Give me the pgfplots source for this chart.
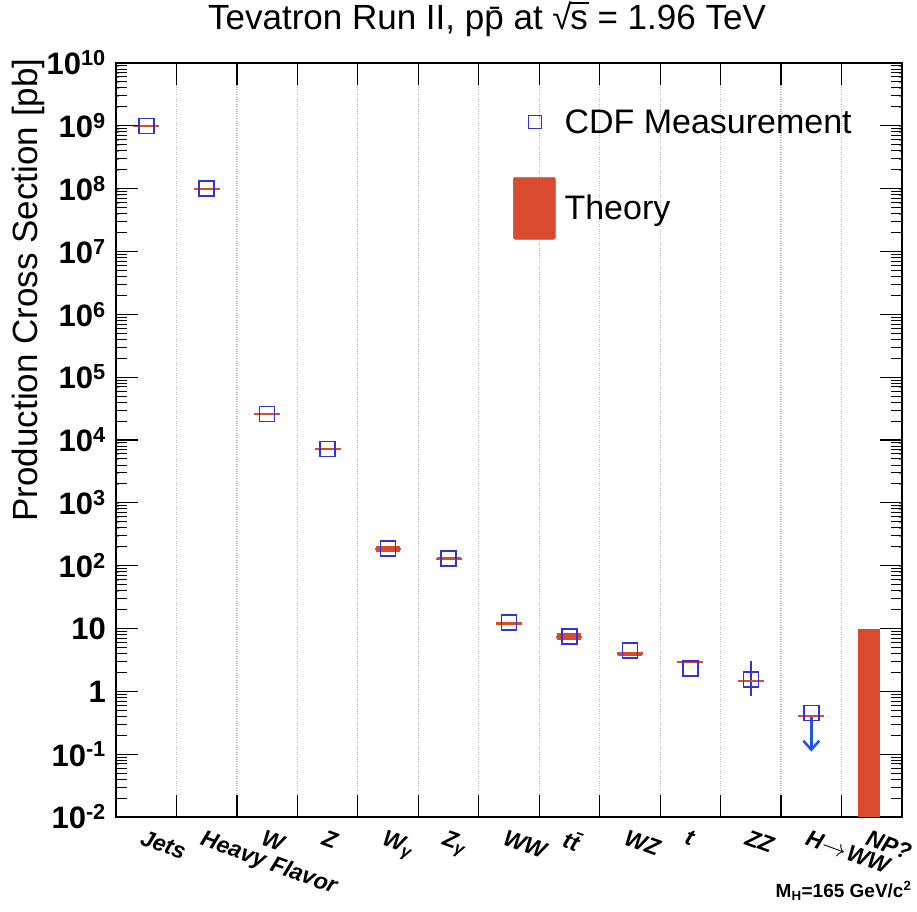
\documentclass[border=0pt]{standalone}
\usepackage{fontspec}
\setmainfont{Liberation Sans}
\usepackage{pgfplots}
\pgfplotsset{compat=1.18}
\usetikzlibrary{arrows.meta}
\definecolor{cdfblue}{RGB}{50,50,215}
\definecolor{thred}{RGB}{217,74,46}
\definecolor{arrowblue}{RGB}{25,85,235}
\begin{document}
\begin{tikzpicture}
\begin{axis}[
  name=ax,
  scale only axis, width=786pt, height=754pt,
  xmin=-0.5, xmax=12.5,
  ymode=log, ymin=1e-2, ymax=1e10,
  axis line style={line width=2.5pt},
  major tick length=22pt,
  major tick style={line width=1.3pt, black},
  xtick={0.5,1.5,2.5,3.5,4.5,5.5,6.5,7.5,8.5,9.5,10.5,11.5,12.5},
  xticklabels={Jets, Heavy Flavor, W, Z, W\raisebox{-0.35ex}{\fontsize{17}{17}\selectfont γ}, Z\raisebox{-0.35ex}{\fontsize{17}{17}\selectfont γ}, WW, t\={t}, WZ, t, ZZ, H\kern1pt$\rightarrow$\kern1pt WW, NP?},
  xmajorgrids, major x grid style={gray!55, dotted, line width=1.2pt},
  xticklabel style={xshift=-32pt, yshift=-12pt, rotate=-20, anchor=north west, font=\bfseries\itshape\fontsize{23}{23}\selectfont, inner sep=0pt},
  ytick={1e-2,1e-1,1,1e1,1e2,1e3,1e4,1e5,1e6,1e7,1e8,1e9,1e10},
  yticklabels={10\textsuperscript{-2},10\textsuperscript{-1},1,10,10\textsuperscript{2},10\textsuperscript{3},10\textsuperscript{4},10\textsuperscript{5},10\textsuperscript{6},10\textsuperscript{7},10\textsuperscript{8},10\textsuperscript{9},10\textsuperscript{10}},
  yticklabel style={font=\bfseries\fontsize{31}{31}\selectfont, inner sep=0pt, xshift=-10pt},
  ylabel={Production Cross Section [pb]},
  ylabel style={at={(rel axis cs:-0.112,1.0106)}, anchor=east, font=\fontsize{35}{35}\selectfont},
  every axis title shift=0pt,
  title={Tevatron Run II, p\={p} at √\kern-0.04em\rlap{\rule[0.74em]{0.52em}{0.06em}}s = 1.96 TeV},
  title style={at={(rel axis cs:0.472,1.0438)}, anchor=base, font=\fontsize{35}{35}\selectfont},
  legend style={at={(rel axis cs:0.505,0.963)}, anchor=north west, draw=none, fill=none,
    inner sep=0pt, column sep=9pt, row sep=24pt, nodes={inner sep=0pt},
    font=\fontsize{34}{34}\selectfont},
  legend cell align=left,
]
% theory: thin lines
\addplot[forget plot, only marks, mark=-, mark size=13pt, mark options={line width=2.2pt, thred}]
  coordinates {
  (0,1.0e9) (1,1.0e8) (2,2.6e4) (3,7.2e3) (4,186) (5,129) (6,12.0)
  (7,7.4) (8,4.0) (9,2.9) (10,1.45) (11,0.41)
  };
% theory: uncertainty bands
\addplot[forget plot, draw=none, mark=none,
  error bars/.cd, y dir=both, y explicit, error mark=none,
  error bar style={line width=24pt, thred}]
  coordinates {
  (4,186) += (0,22) -= (0,20)
  (5,129) += (0,6) -= (0,6)
  (6,12.0) += (0,0.5) -= (0,0.5)
  (7,7.4) += (0,1.2) -= (0,0.9)
  (8,4.0) += (0,0.3) -= (0,0.3)
  };
% NP? band
\addplot[forget plot, fill=thred, draw=none] coordinates {(11.77,0.01) (11.77,10) (12.13,10) (12.13,0.01)};
% CDF measurements
\addplot[forget plot, only marks, mark=square, mark size=7.5pt, mark options={line width=1.6pt, cdfblue, fill=none}]
  coordinates {
  (0,1.0e9) (1,1.0e8) (2,2.6e4) (3,7.2e3) (4,186) (5,129) (6,12.4)
  (7,7.5) (8,4.5) (9,2.3) (10,1.55) (11,0.45)
  };
% ZZ measurement uncertainty
\addplot[forget plot, draw=none, mark=none,
  error bars/.cd, y dir=both, y explicit, error mark=-,
  error bar style={line width=1.6pt, cdfblue},
  error mark options={rotate=0, mark size=4pt, line width=1.6pt, cdfblue}]
  coordinates {(10,1.55) += (0,1.04) -= (0,0.59)};
% H->WW upper limit arrow
\addplot[forget plot, arrowblue, line width=2.5pt, -{Straight Barb[length=9pt, width=16pt, line width=2.5pt]}] coordinates {(11,0.40) (11,0.11)};
\addlegendimage{legend image code/.code={\path[draw=none, fill=none] (0pt,-31pt) rectangle (42pt,31pt); \draw[cdfblue, line width=1.5pt] (15pt,-6.5pt) rectangle (28pt,6.5pt);}}
\addlegendentry{CDF Measurement}
\addlegendimage{legend image code/.code={\fill[thred, rounded corners=2pt] (0pt,-31pt) rectangle (42pt,31pt);}}
\addlegendentry{Theory}
\end{axis}
% y-axis tick marks (axis decoration): one decade = 754pt/12 = 62.8333pt
\foreach \d in {1,...,11} {
  \draw[black, line width=1.3pt] ([yshift=\d*62.8333pt]ax.south west) -- ++(22pt,0pt);
  \draw[black, line width=1.3pt] ([yshift=\d*62.8333pt]ax.south east) -- ++(-22pt,0pt);
}
\foreach \d in {0,...,11} {
  \foreach \l in {0.30103,0.47712,0.60206,0.69897,0.77815,0.84510,0.90309,0.95424} {
    \draw[black, line width=1pt] ([yshift={(\d+\l)*62.8333pt}]ax.south west) -- ++(11pt,0pt);
    \draw[black, line width=1pt] ([yshift={(\d+\l)*62.8333pt}]ax.south east) -- ++(-11pt,0pt);
  }
}
\node[anchor=base east, font=\bfseries\fontsize{19}{19}\selectfont] at ([shift={(13pt,-80pt)}]ax.south east) {M\textsubscript{H}=165 GeV/c\textsuperscript{2}};
\pgfresetboundingbox
\path[use as bounding box] ([shift={(-116pt,-94pt)}]ax.south west) rectangle ([shift={(15pt,63pt)}]ax.north east);
\end{tikzpicture}
\end{document}
